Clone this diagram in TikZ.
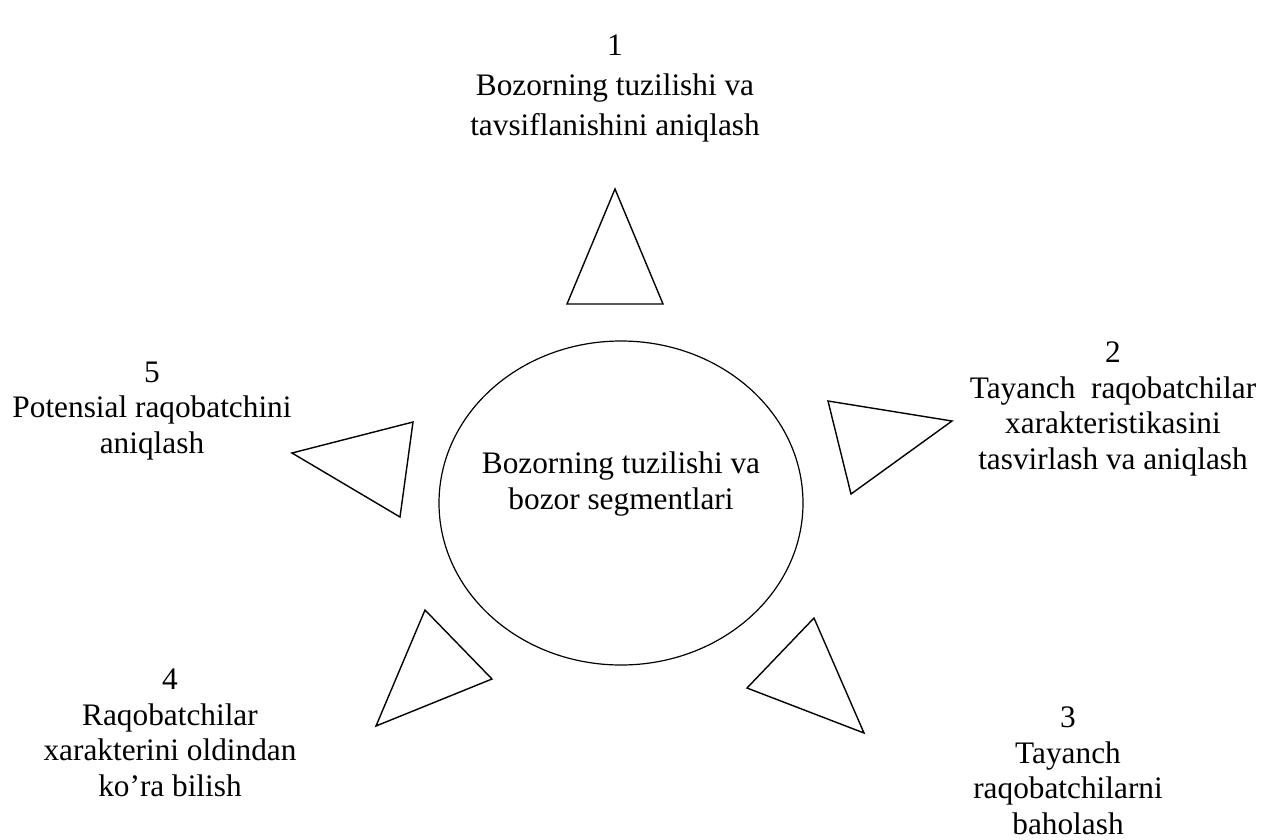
\documentclass[tikz,border=0pt]{standalone}
\usepackage{fontspec}
\setmainfont{Liberation Serif}
\usetikzlibrary{shapes.geometric}
\begin{document}
\begin{tikzpicture}[x=1pt,y=-1pt,
  line width=1.4pt,
  lbl/.style={align=center, font=\fontsize{31.3}{35.5}\selectfont, inner sep=0pt},
  toplbl/.style={align=center, font=\fontsize{31.3}{40}\selectfont, inner sep=0pt},
  tri/.style={draw, line join=miter}]
\useasboundingbox (0,0) rectangle (1272,839);
% central ellipse
\node (core) [draw, ellipse, minimum width=364pt, minimum height=324pt, inner sep=0pt, line width=1.2pt] at (621,503) {};
\node (coretext) [lbl] at (621,484) {Bozorning tuzilishi va\\bozor segmentlari};
% triangles
\draw[tri] (615,189) -- (567,304) -- (663,304) -- cycle;
\draw[tri] (828,401) -- (952,421) -- (851,494) -- cycle;
\draw[tri] (292,453) -- (413,422) -- (400,517) -- cycle;
\draw[tri] (814,618) -- (747,688) -- (864,733) -- cycle;
\draw[tri] (425,610) -- (492,679) -- (376,726) -- cycle;
% labels
\node (l1) [toplbl] at (615,88) {1\\Bozorning tuzilishi va\\tavsiflanishini aniqlash};
\node (l2) [lbl] at (1113,409) {2\\Tayanch\ \ raqobatchilar\\xarakteristikasini\\tasvirlash va aniqlash};
\node (l3) [lbl] at (1068,771) {3\\Tayanch\\raqobatchilarni\\baholash};
\node (l4) [lbl] at (170,733) {4\\Raqobatchilar\\xarakterini oldindan\\ko’ra bilish};
\node (l5) [lbl] at (152,411) {5\\Potensial raqobatchini\\aniqlash};
\end{tikzpicture}
\end{document}
